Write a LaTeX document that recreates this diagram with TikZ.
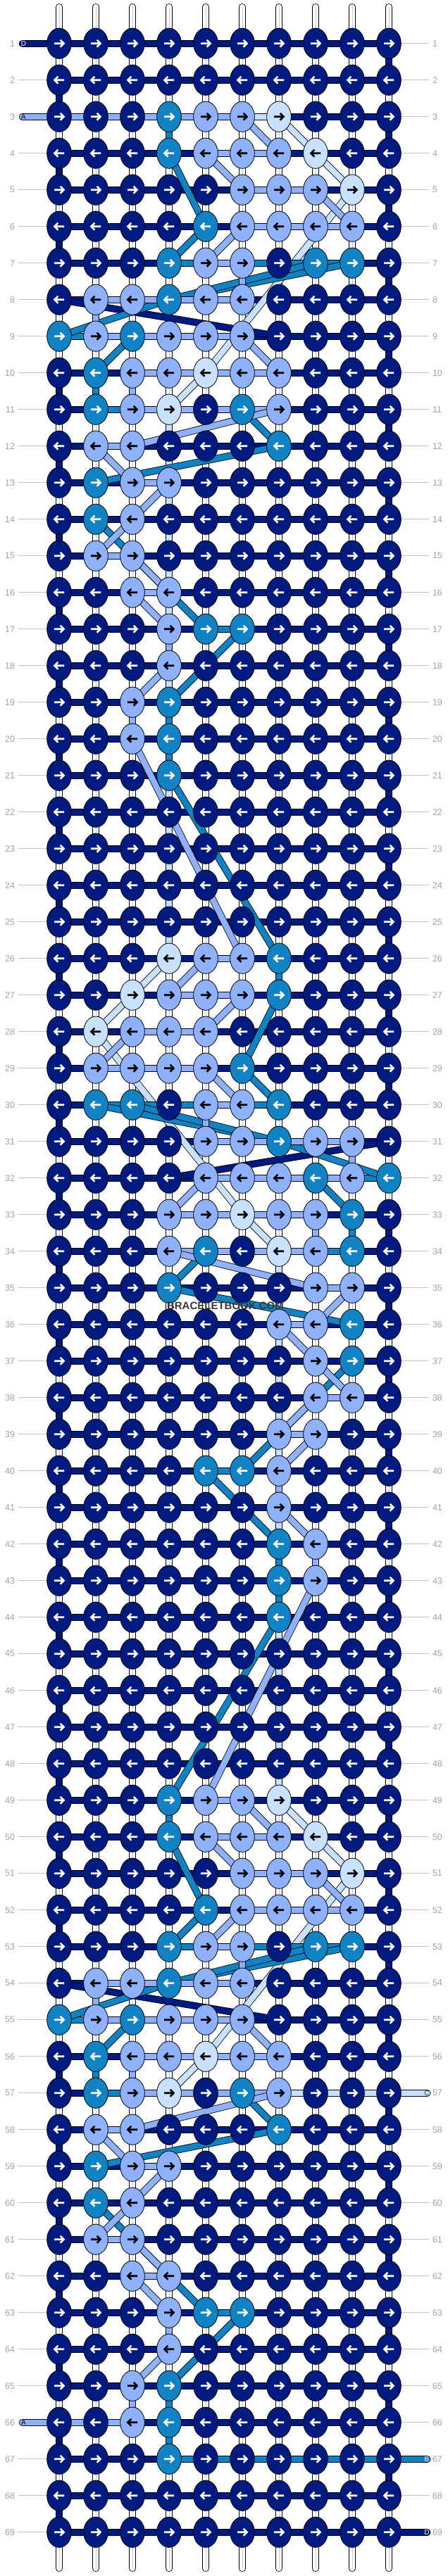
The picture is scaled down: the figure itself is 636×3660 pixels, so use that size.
\documentclass[tikz,border=0pt]{standalone}
\usepackage{fontspec}
\setmainfont{Liberation Sans}
\usetikzlibrary{shapes.geometric}

\definecolor{navy}{RGB}{0,26,128}
\definecolor{midblue}{RGB}{17,130,196}
\definecolor{lightblue}{RGB}{143,176,250}
\definecolor{paleblue}{RGB}{200,225,255}
\definecolor{rowgray}{RGB}{160,160,160}
\definecolor{guidegray}{RGB}{192,192,192}
\definecolor{markgray}{RGB}{55,55,55}
\definecolor{seamgray}{RGB}{200,200,200}

% knot fill and arrow ink per colour letter
\def\fillN{navy}\def\fillM{midblue}\def\fillL{lightblue}\def\fillW{paleblue}
\def\inkN{white}\def\inkM{white}\def\inkL{black}\def\inkW{black}

\pgfdeclarelayer{strings}
\pgfsetlayers{strings,main}

\tikzset{
  knot/.style={ellipse, draw=black, line width=0.8pt, minimum width=34.7pt,
    minimum height=43.3pt, inner sep=0pt},
  strand/.style={draw=black, line width=0.8pt, double distance=8.4pt},
  sN/.style={strand, double=navy},
  sM/.style={strand, double=midblue},
  sL/.style={strand, double=lightblue},
  sW/.style={strand, double=paleblue},
  sE/.style={strand, double=white,
    postaction={draw=seamgray, line width=1pt, double=none}},
  rowno/.style={inner sep=0pt, outer sep=5pt, text=rowgray,
    font=\fontsize{12.5}{12.5}\selectfont},
  guide/.style={draw=guidegray, line width=1pt},
  tag/.style={inner sep=0pt, font=\fontsize{10}{10}\selectfont},
}

% bands of one motif: #1 row offset, #2 mirrored (1) or not (0), #3 style, #4 data
\newcommand\hbands[4]{%
  \foreach \kk/\cc in {#4}{%
    \pgfmathtruncatemacro\ra{\kk+#1}%
    \pgfmathtruncatemacro\ca{#2==1 ? 11-\cc : \cc}%
    \pgfmathtruncatemacro\cb{#2==1 ? 10-\cc : \cc+1}%
    \draw[#3] (k-\ra-\ca.center) -- (k-\ra-\cb.center);}}
\newcommand\vbands[4]{%
  \foreach \kk/\cc in {#4}{%
    \pgfmathtruncatemacro\ra{\kk+#1}%
    \pgfmathtruncatemacro\rb{\kk+#1+1}%
    \pgfmathtruncatemacro\ca{#2==1 ? 11-\cc : \cc}%
    \draw[#3] (k-\ra-\ca.center) -- (k-\rb-\ca.center);}}
\newcommand\dbands[4]{%
  \foreach \ka/\pa/\kb/\pb in {#4}{%
    \pgfmathtruncatemacro\ra{\ka+#1}%
    \pgfmathtruncatemacro\rb{\kb+#1}%
    \pgfmathtruncatemacro\xa{#2==1 ? 11-\pa : \pa}%
    \pgfmathtruncatemacro\xb{#2==1 ? 11-\pb : \pb}%
    \draw[#3] (k-\ra-\xa.center) -- (k-\rb-\xb.center);}}

% the three passes of the motif
\newcommand\motifW[2]{\dbands{#1}{#2}{sW}{0/7/1/8, 1/8/2/9, 2/9/7/5, 7/5/8/4}}
\newcommand\motifM[2]{%
  \hbands{#1}{#2}{sM}{4/4, 4/6, 4/7, 4/8, 6/1, 8/2, 14/5}%
  \vbands{#1}{#2}{sM}{0/4, 7/2, 16/4, 17/4}%
  \dbands{#1}{#2}{sM}{1/4/3/5, 3/5/4/4, 4/9/5/4, 4/8/5/4, 5/4/6/1, 6/3/7/2,
    8/6/9/7, 9/7/10/2, 11/2/14/5, 14/6/16/4}}
\newcommand\motifL[2]{%
  \hbands{#1}{#2}{sL}{0/5, 1/5, 1/6, 2/6, 2/7, 3/6, 3/7, 3/8, 4/5, 5/2, 5/3, 5/4,
    5/5, 6/2, 6/3, 6/4, 6/5, 7/3, 7/4, 7/5, 7/6, 8/3, 8/4, 8/5, 8/6, 9/2, 10/3,
    12/2, 13/3}%
  \vbands{#1}{#2}{sL}{4/6, 5/2, 7/3, 14/4, 16/3}%
  \dbands{#1}{#2}{sL}{0/6/1/7, 1/5/2/6, 2/8/3/9, 3/6/4/5, 6/6/7/7, 8/7/9/3,
    9/2/10/3, 10/4/11/3, 11/3/12/2, 12/3/13/4, 13/3/14/4, 15/4/16/3}}

\begin{document}
\begin{tikzpicture}[x=1pt, y=-1pt]
\useasboundingbox (0,0) rectangle (636,3660);

% knots
\foreach \rr/\cols in {
  1/{N,N,N,N,N,N,N,N,N,N}, 2/{N,N,N,N,N,N,N,N,N,N},
  3/{N,N,N,M,L,L,W,N,N,N}, 4/{N,N,N,M,L,L,L,W,N,N},
  5/{N,N,N,N,N,L,L,L,W,N}, 6/{N,N,N,N,M,L,L,L,L,N},
  7/{N,N,N,M,L,L,N,M,M,N}, 8/{N,L,L,M,L,L,N,N,N,N},
  9/{M,L,M,L,L,L,N,N,N,N}, 10/{N,M,L,L,W,L,L,N,N,N},
  11/{N,M,L,W,N,M,L,N,N,N}, 12/{N,L,L,N,N,N,M,N,N,N},
  13/{N,M,L,L,N,N,N,N,N,N}, 14/{N,M,L,N,N,N,N,N,N,N},
  15/{N,L,L,N,N,N,N,N,N,N}, 16/{N,N,L,L,N,N,N,N,N,N},
  17/{N,N,N,L,M,M,N,N,N,N}, 18/{N,N,N,L,N,N,N,N,N,N},
  19/{N,N,L,M,N,N,N,N,N,N}, 20/{N,N,L,M,N,N,N,N,N,N},
  21/{N,N,N,M,N,N,N,N,N,N}, 22/{N,N,N,N,N,N,N,N,N,N},
  23/{N,N,N,N,N,N,N,N,N,N}, 24/{N,N,N,N,N,N,N,N,N,N},
  25/{N,N,N,N,N,N,N,N,N,N},
  26/{N,N,N,W,L,L,M,N,N,N}, 27/{N,N,W,L,L,L,M,N,N,N},
  28/{N,W,L,L,L,N,N,N,N,N}, 29/{N,L,L,L,L,M,N,N,N,N},
  30/{N,M,M,N,L,L,M,N,N,N}, 31/{N,N,N,N,L,L,M,L,L,N},
  32/{N,N,N,N,L,L,L,M,L,M}, 33/{N,N,N,L,L,W,L,L,M,N},
  34/{N,N,N,L,M,N,W,L,M,N}, 35/{N,N,N,M,N,N,N,L,L,N},
  36/{N,N,N,N,N,N,L,L,M,N}, 37/{N,N,N,N,N,N,N,L,M,N},
  38/{N,N,N,N,N,N,N,L,L,N}, 39/{N,N,N,N,N,N,L,L,N,N},
  40/{N,N,N,N,M,M,L,N,N,N}, 41/{N,N,N,N,N,N,L,N,N,N},
  42/{N,N,N,N,N,N,M,L,N,N}, 43/{N,N,N,N,N,N,M,L,N,N},
  44/{N,N,N,N,N,N,M,N,N,N}, 45/{N,N,N,N,N,N,N,N,N,N},
  46/{N,N,N,N,N,N,N,N,N,N}, 47/{N,N,N,N,N,N,N,N,N,N},
  48/{N,N,N,N,N,N,N,N,N,N},
  49/{N,N,N,M,L,L,W,N,N,N}, 50/{N,N,N,M,L,L,L,W,N,N},
  51/{N,N,N,N,N,L,L,L,W,N}, 52/{N,N,N,N,M,L,L,L,L,N},
  53/{N,N,N,M,L,L,N,M,M,N}, 54/{N,L,L,M,L,L,N,N,N,N},
  55/{M,L,M,L,L,L,N,N,N,N}, 56/{N,M,L,L,W,L,L,N,N,N},
  57/{N,M,L,W,N,M,L,N,N,N}, 58/{N,L,L,N,N,N,M,N,N,N},
  59/{N,M,L,L,N,N,N,N,N,N}, 60/{N,M,L,N,N,N,N,N,N,N},
  61/{N,L,L,N,N,N,N,N,N,N}, 62/{N,N,L,L,N,N,N,N,N,N},
  63/{N,N,N,L,M,M,N,N,N,N}, 64/{N,N,N,L,N,N,N,N,N,N},
  65/{N,N,L,M,N,N,N,N,N,N}, 66/{N,N,L,M,N,N,N,N,N,N},
  67/{N,N,N,M,N,N,N,N,N,N}, 68/{N,N,N,N,N,N,N,N,N,N},
  69/{N,N,N,N,N,N,N,N,N,N}}{
  \foreach \kc [count=\cc] in \cols {
    \pgfmathsetmacro\x{32+52*\cc}
    \pgfmathsetmacro\y{9.7+52*\rr}
    \pgfmathtruncatemacro\dir{mod(\rr,2)==1 ? 1 : -1}
    \node[knot, fill=\csname fill\kc\endcsname] (k-\rr-\cc) at (\x,\y) {};
    \begin{scope}[shift={(\x,\y)}, xscale=\dir]
      \draw[line width=2.6pt, draw=\csname ink\kc\endcsname]
        (-7,0) -- (6.4,0) (1.6,-5) -- (6.6,0) -- (1.6,5);
    \end{scope}
  }
}

% row numbers and guide lines
\foreach \rr in {1,...,69}{
  \pgfmathsetmacro\y{9.7+52*\rr}
  \node[rowno, anchor=east] (nl-\rr) at (26,\y) {\rr};
  \node[rowno, anchor=west] (nr-\rr) at (609,\y) {\rr};
  \ifnum\rr=1 \else\ifnum\rr=3 \else\ifnum\rr=66 \else
    \draw[guide] (nl-\rr) -- (k-\rr-1);
  \fi\fi\fi
  \ifnum\rr=57 \else\ifnum\rr=67 \else\ifnum\rr=69 \else
    \draw[guide] (k-\rr-10) -- (nr-\rr);
  \fi\fi\fi
}

% free ends of the strands
\foreach \cc in {1,...,10}{
  \coordinate (top-\cc) at (32+52*\cc, 10);
  \coordinate (bot-\cc) at (32+52*\cc, 3649);
}
\coordinate (in-1) at (31.7, 61.7);
\coordinate (in-3) at (31.7, 165.7);
\coordinate (in-66) at (31.7, 3441.7);
\coordinate (out-57) at (606.5, 2973.7);
\coordinate (out-67) at (606.5, 3493.7);
\coordinate (out-69) at (606.5, 3597.7);

\begin{pgfonlayer}{strings}
  % bare base strings
  \foreach \cc in {1,...,10}{
    \draw[sE, line cap=round] (top-\cc) -- (k-1-\cc.center);
    \draw[sE, line cap=round] (k-69-\cc.center) -- (bot-\cc);
  }
  \foreach \rr in {1,...,68}{
    \pgfmathtruncatemacro\rn{\rr+1}
    \foreach \cc in {1,...,10}
      \draw[sE] (k-\rr-\cc.center) -- (k-\rn-\cc.center);
  }
  % the navy strand D, row by row
  \draw[sN, line cap=round] (in-1) -- (k-1-1.center);
  \draw[sN, line cap=round] (k-69-10.center) -- (out-69);
  \foreach \rr in {1,...,69}{
    \foreach \cc in {1,...,9}{
      \pgfmathtruncatemacro\cn{\cc+1}
      \draw[sN] (k-\rr-\cc.center) -- (k-\rr-\cn.center);
    }
  }
  \foreach \rr in {1,...,68}{
    \pgfmathtruncatemacro\rn{\rr+1}
    \pgfmathtruncatemacro\ct{mod(\rr,2)==1 ? 10 : 1}
    \ifnum\rr=8 \else\ifnum\rr=31 \else\ifnum\rr=54 \else
      \draw[sN] (k-\rr-\ct.center) -- (k-\rn-\ct.center);
    \fi\fi\fi
  }
  \dbands{3}{0}{sN}{5/1/6/7}
  \dbands{26}{1}{sN}{5/1/6/7}
  \dbands{49}{0}{sN}{5/1/6/7}

  % pale strand C
  \vbands{3}{0}{sW}{8/4, 9/4, 10/4, 11/4, 12/4, 13/4, 14/4, 15/4, 16/4, 17/4,
    18/4, 19/4, 20/4, 21/4, 22/4}
  \vbands{26}{1}{sW}{8/4, 9/4, 10/4, 11/4, 12/4, 13/4, 14/4, 15/4, 16/4, 17/4,
    18/4, 19/4, 20/4, 21/4, 22/4}
  \motifW{3}{0}
  \motifW{26}{1}
  \motifW{49}{0}
  \draw[sW] (k-3-6.center) -- (k-3-7.center);
  \hbands{49}{0}{sW}{8/7, 8/8, 8/9}
  \draw[sW, line cap=round] (k-57-10.center) -- (out-57);

  % medium strand B
  \motifM{3}{0}
  \motifM{26}{1}
  \motifM{49}{0}
  \dbands{3}{0}{sM}{18/4/23/7}
  \dbands{26}{1}{sM}{18/4/23/7}
  \hbands{67}{0}{sM}{0/4, 0/5, 0/6, 0/7, 0/8, 0/9}
  \draw[sM, line cap=round] (k-67-10.center) -- (out-67);

  % light strand A
  \motifL{3}{0}
  \motifL{26}{1}
  \motifL{49}{0}
  \dbands{3}{0}{sL}{17/3/23/6}
  \dbands{26}{1}{sL}{17/3/23/6}
  \draw[sL, line cap=round] (in-3) -- (k-3-1.center);
  \hbands{3}{0}{sL}{0/1, 0/2, 0/3, 0/4}
  \draw[sL, line cap=round] (in-66) -- (k-66-1.center);
  \hbands{66}{0}{sL}{0/1, 0/2}
\end{pgfonlayer}

% strand letters
\node[tag, text=white] (tag-d1) at (33.5, 61.7) {D};
\node[tag, text=black] (tag-a3) at (33.5, 165.7) {A};
\node[tag, text=black] (tag-a66) at (33.5, 3441.7) {A};
\node[tag, text=markgray] (tag-c57) at (606, 2973.7) {C};
\node[tag, text=white] (tag-b67) at (606, 3493.7) {B};
\node[tag, text=white] (tag-d69) at (606, 3597.7) {D};

\node[text=markgray, font=\bfseries\fontsize{15}{15}\selectfont] (mark) at (320, 1855)
  {BRACELETBOOK.COM};
\end{tikzpicture}
\end{document}
